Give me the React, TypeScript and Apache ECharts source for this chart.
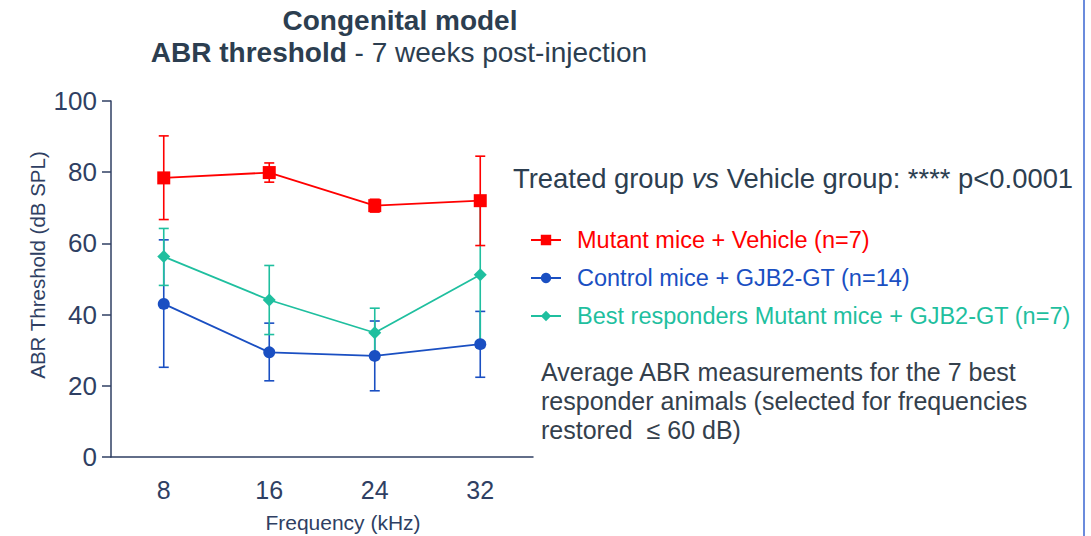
import React, { useEffect, useRef } from "react";
import * as echarts from "echarts";

const frequencies = ["8", "16", "24", "32"];

const vehicleMean = [78.4, 79.9, 70.6, 72.0];
const vehicleLow = [66.7, 77.2, 68.8, 59.4];
const vehicleHigh = [90.2, 82.6, 72.4, 84.5];

const controlMean = [43.0, 29.4, 28.4, 31.7];
const controlLow = [25.2, 21.4, 18.6, 22.4];
const controlHigh = [61.0, 37.6, 38.2, 40.9];

const bestMean = [56.3, 44.1, 34.9, 51.2];
const bestLow = [48.2, 34.4, 28.5, 32.4];
const bestHigh = [64.2, 53.8, 41.8, 70.8];

const yTicks = { min: 0, max: 100, interval: 20 };

const RED = "#ff0000";
const BLUE = "#1a4fc2";
const TEAL = "#1fbf9f";
const NAVY = "#2f3f63";
const DARK = "#2c3e50";
const FONT = "'Liberation Sans', Arial, sans-serif";

function errorSeries(name: string, low: number[], high: number[], color: string) {
  return {
    type: "custom",
    name: name + "-err",
    data: low.map((l, i) => [i, l, high[i]]),
    z: 1,
    silent: true,
    renderItem: (_params: any, api: any) => {
      const x = api.value(0);
      const lo = api.coord([x, api.value(1)]);
      const hi = api.coord([x, api.value(2)]);
      const cap = 5;
      const st = { stroke: color, lineWidth: 1.6 };
      return {
        type: "group",
        children: [
          { type: "line", shape: { x1: lo[0], y1: lo[1], x2: hi[0], y2: hi[1] }, style: st },
          { type: "line", shape: { x1: lo[0] - cap, y1: lo[1], x2: lo[0] + cap, y2: lo[1] }, style: st },
          { type: "line", shape: { x1: hi[0] - cap, y1: hi[1], x2: hi[0] + cap, y2: hi[1] }, style: st },
        ],
      };
    },
  };
}

export default function App() {
  const ref = useRef<HTMLDivElement>(null);
  useEffect(() => {
    if (!ref.current) return;
    const chart = echarts.init(ref.current, null, { renderer: "svg" });
    const s1 = "Mutant mice + Vehicle (n=7)";
    const s2 = "Control mice + GJB2-GT (n=14)";
    const s3 = "Best responders Mutant mice + GJB2-GT (n=7)";
    chart.setOption({
      animation: false,
      textStyle: { fontFamily: FONT },
      grid: { left: 111, right: 558, top: 101, bottom: 79, containLabel: false },
      legend: {
        left: 530,
        top: 228,
        padding: 0,
        orient: "vertical",
        itemWidth: 30,
        itemHeight: 13,
        itemGap: 14,
        textStyle: { fontSize: 23.5, lineHeight: 24, fontFamily: FONT, padding: [0, 0, 0, 11] },
        data: [
          { name: s1, textStyle: { color: RED } },
          { name: s2, textStyle: { color: BLUE } },
          { name: s3, textStyle: { color: TEAL } },
        ],
      },
      xAxis: {
        type: "category",
        data: frequencies,
        boundaryGap: true,
        axisLine: { lineStyle: { color: NAVY, width: 1.5 } },
        axisTick: { alignWithLabel: true, length: 12, lineStyle: { color: NAVY, width: 1.5 } },
        axisLabel: { color: NAVY, fontSize: 25, margin: 20, fontFamily: FONT },
      },
      yAxis: {
        type: "value",
        min: yTicks.min,
        max: yTicks.max,
        interval: yTicks.interval,
        splitLine: { show: false },
        axisLine: { show: true, lineStyle: { color: NAVY, width: 1.5 } },
        axisTick: { show: true, length: 9, lineStyle: { color: NAVY, width: 1.5 } },
        axisLabel: { color: NAVY, fontSize: 26, margin: 14, fontFamily: FONT },
      },
      graphic: [
        {
          type: "text",
          style: {
            text: "Congenital model",
            x: 400,
            y: 20,
            align: "center",
            verticalAlign: "middle",
            fill: DARK,
            font: `bold 28px ${FONT}`,
          },
        },
        {
          type: "text",
          style: {
            x: 399,
            y: 52,
            align: "center",
            verticalAlign: "middle",
            text: "{b|ABR threshold} - 7 weeks post-injection",
            font: `28px ${FONT}`,
            fill: DARK,
            rich: {
              b: { fontWeight: "bold", fontSize: 28, fontFamily: FONT, fill: DARK },
            },
          },
        },
        {
          type: "text",
          rotation: Math.PI / 2,
          x: 37,
          y: 265,
          style: {
            x: 0,
            y: 0,
            align: "center",
            verticalAlign: "middle",
            text: "ABR Threshold (dB SPL)",
            font: `20.5px ${FONT}`,
            fill: NAVY,
          },
        },
        {
          type: "text",
          style: {
            x: 513,
            y: 178,
            verticalAlign: "middle",
            text: "Treated group {i|vs} Vehicle group: **** p<0.0001",
            font: `27.4px ${FONT}`,
            fill: DARK,
            rich: { i: { fontStyle: "italic", fontSize: 27.4, fontFamily: FONT, fill: DARK } },
          },
        },
        {
          type: "text",
          style: {
            x: 541,
            y: 357,
            text:
              "Average ABR measurements for the 7 best\nresponder animals (selected for frequencies\nrestored  ≤ 60 dB)",
            font: `25px ${FONT}`,
            lineHeight: 29,
            fill: "#34404c",
          },
        },
        {
          type: "text",
          style: {
            x: 343,
            y: 522,
            align: "center",
            verticalAlign: "middle",
            text: "Frequency (kHz)",
            font: `21px ${FONT}`,
            fill: NAVY,
          },
        },
        {
          type: "line",
          shape: { x1: 1084, y1: 0, x2: 1084, y2: 536 },
          style: { stroke: "#3a64d0", lineWidth: 1.5 },
        },
      ],
      series: [
        errorSeries(s2, controlLow, controlHigh, BLUE),
        errorSeries(s3, bestLow, bestHigh, TEAL),
        errorSeries(s1, vehicleLow, vehicleHigh, RED),
        {
          name: s2,
          type: "line",
          data: controlMean,
          symbol: "circle",
          symbolSize: 12,
          itemStyle: { color: BLUE },
          lineStyle: { color: BLUE, width: 1.8 },
          z: 3,
        },
        {
          name: s3,
          type: "line",
          data: bestMean,
          symbol: "diamond",
          symbolSize: 13,
          itemStyle: { color: TEAL },
          lineStyle: { color: TEAL, width: 1.8 },
          z: 3,
        },
        {
          name: s1,
          type: "line",
          data: vehicleMean,
          symbol: "rect",
          symbolSize: 13,
          itemStyle: { color: RED },
          lineStyle: { color: RED, width: 1.8 },
          z: 3,
        },
      ],
    });
    return () => chart.dispose();
  }, []);
  return <div ref={ref} style={{ width: 1091, height: 536, position: "absolute", left: 0, top: 0 }} />;
}
